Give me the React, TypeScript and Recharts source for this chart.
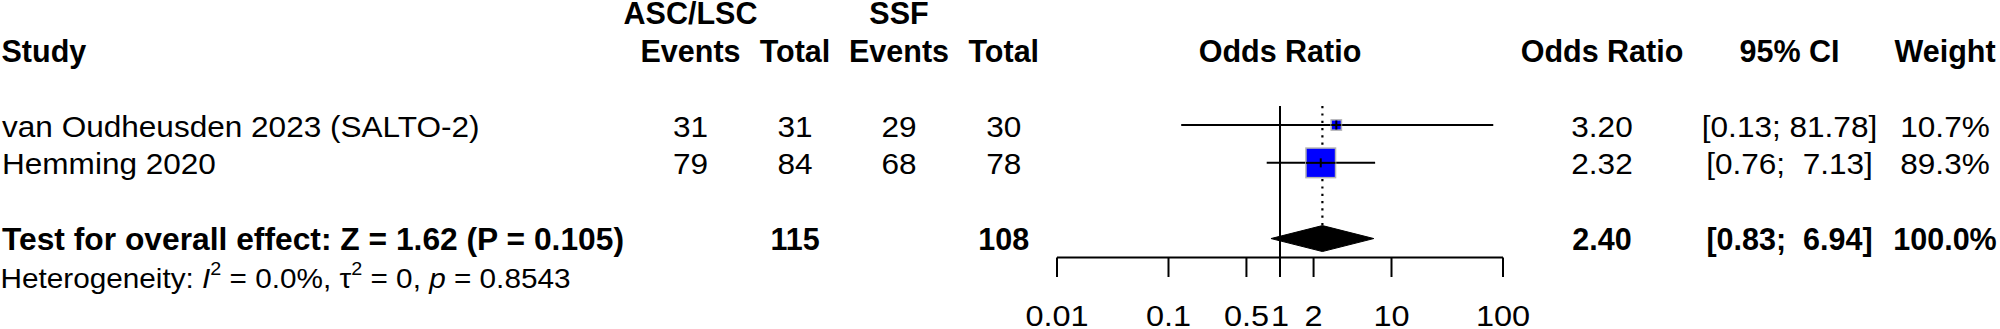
import {
  Area,
  ComposedChart,
  ErrorBar,
  ReferenceLine,
  Scatter,
  XAxis,
  YAxis,
} from "recharts";

// ---- data ----
const studies = ["van Oudheusden 2023 (SALTO-2)", "Hemming 2020"];
const ascEvents = [31, 79];
const ascTotal = [31, 84];
const ssfEvents = [29, 68];
const ssfTotal = [30, 78];
const oddsRatio = [3.2, 2.32];
const ciLow = [0.13, 0.76];
const ciHigh = [81.78, 7.13];
const weights = [10.7, 89.3];
const studyRows = [1, 2];

const pooledOR = 2.4;
const pooledLow = 0.83;
const pooledHigh = 6.94;
const pooledAscTotal = 115;
const pooledSsfTotal = 108;
const pooledWeight = 100;
const pooledRow = 4;
const headerRow = -1;

const overallText = "Test for overall effect: Z = 1.62 (P = 0.105)";
const hetI2 = "0.0%";
const hetTau2 = "0";
const hetP = "0.8543";

const axisTicks = [0.01, 0.1, 0.5, 1, 2, 10, 100];

// ---- layout ----
const W = 2000;
const H = 329;
const PLOT_LEFT = 1057;
const PLOT_RIGHT = 1503;
const PLOT_BOTTOM = 257.5;
const ROW1_Y = 125;
const ROW_PX = 37.85;
const Y_MIN = 1 - ROW1_Y / ROW_PX;
const Y_MAX = 1 + (PLOT_BOTTOM - ROW1_Y) / ROW_PX;
const TEXT_DY = 11.5;
const FS_BOLD = 30.5;
const FS_REG = 29.5;
const SX_REG = 1.07;
const FONT = '"Liberation Sans", Arial, Helvetica, sans-serif';
const SQUARE_K = 3.13;
const DIAMOND_HALF = 0.343;
const COL = {
  study: 2,
  ev1: 690.5,
  tot1: 795,
  ev2: 899,
  tot2: 1003.8,
  or: 1602,
  ci: 1789.5,
  weight: 1945,
};

const fmtCI = (lo: number, hi: number) =>
  `[${lo.toFixed(2)}; ${hi.toFixed(2).padStart(5)}]`;

const studyData = studies.map((name, i) => ({
  x: oddsRatio[i],
  y: studyRows[i],
  name,
  ev1: ascEvents[i],
  tot1: ascTotal[i],
  ev2: ssfEvents[i],
  tot2: ssfTotal[i],
  weight: weights[i],
  err: [oddsRatio[i] - ciLow[i], ciHigh[i] - oddsRatio[i]],
  ci: fmtCI(ciLow[i], ciHigh[i]),
}));

const pooledData = [{ x: pooledOR, y: pooledRow }];
const headerData = [{ x: 1, y: headerRow }];

const diamondData = [
  { x: pooledLow, band: [pooledRow, pooledRow] },
  { x: pooledOR, band: [pooledRow - DIAMOND_HALF, pooledRow + DIAMOND_HALF] },
  { x: pooledHigh, band: [pooledRow, pooledRow] },
];

// bold text in the original renders at plain Arial proportions, regular text a bit wider
const bold = (x: number, y: number, s: string | number, anchor: string, len?: number) => (
  <text
    x={x}
    y={y}
    textAnchor={anchor as any}
    fontFamily={FONT}
    fontSize={FS_BOLD}
    fontWeight={700}
    fill="#000"
    style={{ whiteSpace: "pre" }}
    textLength={len}
    lengthAdjust={len ? "spacingAndGlyphs" : undefined}
  >
    {s}
  </text>
);

const reg = (x: number, y: number, s: string | number, anchor: string, fs = FS_REG) => (
  <text
    transform={`translate(${x},${y}) scale(${SX_REG},1)`}
    textAnchor={anchor as any}
    fontFamily={FONT}
    fontSize={fs}
    fill="#000"
    style={{ whiteSpace: "pre" }}
  >
    {s}
  </text>
);

function HeaderShape(props: any) {
  const { cx, cy } = props;
  const y2 = cy + 13;
  const y1 = cy - 25;
  return (
    <g>
      {bold(COL.ev1, y1, "ASC/LSC", "middle")}
      {bold(COL.ev2, y1, "SSF", "middle")}
      {bold(1.5, y2, "Study", "start")}
      {bold(COL.ev1, y2, "Events", "middle")}
      {bold(COL.tot1, y2, "Total", "middle")}
      {bold(COL.ev2, y2, "Events", "middle")}
      {bold(COL.tot2, y2, "Total", "middle")}
      {bold(cx, y2, "Odds Ratio", "middle")}
      {bold(COL.or, y2, "Odds Ratio", "middle")}
      {bold(COL.ci, y2, "95% CI", "middle")}
      {bold(COL.weight, y2, "Weight", "middle")}
    </g>
  );
}

function StudyShape(props: any) {
  const { cx, cy, payload } = props;
  const side = SQUARE_K * Math.sqrt(payload.weight);
  const ty = cy + TEXT_DY;
  return (
    <g>
      <rect
        x={cx - side / 2}
        y={cy - side / 2}
        width={side}
        height={side}
        fill="#0000ff"
        stroke="#b4b4b4"
        strokeWidth={1.5}
      />
      <line x1={cx - side / 2} x2={cx + side / 2} y1={cy} y2={cy} stroke="#000" strokeWidth={2} />
      <line x1={cx} x2={cx} y1={cy - 4.5} y2={cy + 4.5} stroke="#000" strokeWidth={2} />
      {reg(COL.study, ty, payload.name, "start")}
      {reg(COL.ev1, ty, payload.ev1, "middle")}
      {reg(COL.tot1, ty, payload.tot1, "middle")}
      {reg(COL.ev2, ty, payload.ev2, "middle")}
      {reg(COL.tot2, ty, payload.tot2, "middle")}
      {reg(COL.or, ty, payload.x.toFixed(2), "middle")}
      {reg(COL.ci, ty, payload.ci, "middle")}
      {reg(COL.weight, ty, `${payload.weight.toFixed(1)}%`, "middle")}
    </g>
  );
}

function PooledShape(props: any) {
  const { cy } = props;
  const ty = cy + TEXT_DY;
  const hy = cy + ROW_PX + TEXT_DY;
  return (
    <g>
      {bold(COL.study, ty, overallText, "start", 622)}
      {bold(COL.tot1, ty, pooledAscTotal, "middle")}
      {bold(COL.tot2, ty, pooledSsfTotal, "middle")}
      {bold(COL.or, ty, pooledOR.toFixed(2), "middle")}
      {bold(COL.ci, ty, fmtCI(pooledLow, pooledHigh), "middle")}
      {bold(COL.weight, ty, `${pooledWeight.toFixed(1)}%`, "middle")}
      <text
        x={0.5}
        y={hy}
        fontFamily={FONT}
        fontSize={28.5}
        fill="#000"
        style={{ whiteSpace: "pre" }}
        textLength={570}
        lengthAdjust="spacingAndGlyphs"
      >
        <tspan>Heterogeneity: </tspan>
        <tspan fontStyle="italic">I</tspan>
        <tspan fontSize={19} dy={-13}>2</tspan>
        <tspan dy={13}>{` = ${hetI2}, τ`}</tspan>
        <tspan fontSize={19} dy={-13}>2</tspan>
        <tspan dy={13}>{` = ${hetTau2}, `}</tspan>
        <tspan fontStyle="italic">p</tspan>
        <tspan>{` = ${hetP}`}</tspan>
      </text>
    </g>
  );
}

function AxisTick(props: any) {
  const { x, y, payload } = props;
  return (
    <text
      transform={`translate(${x},${y + 49}) scale(1.1,1)`}
      textAnchor="middle"
      fontFamily={FONT}
      fontSize={29.5}
      fill="#000"
    >
      {String(payload.value)}
    </text>
  );
}

export default function App() {
  return (
    <div style={{ position: "absolute", left: 0, top: 0, width: W, height: H, background: "#fff" }}>
      <ComposedChart
        width={W}
        height={H}
        margin={{ top: 0, right: W - PLOT_RIGHT, bottom: 0, left: PLOT_LEFT }}
      >
        <XAxis
          type="number"
          dataKey="x"
          scale="log"
          domain={[0.01, 100]}
          ticks={axisTicks}
          interval={0}
          height={H - PLOT_BOTTOM}
          tickSize={19.5}
          tickMargin={0}
          stroke="#000"
          strokeWidth={2}
          tick={<AxisTick />}
        />
        <YAxis type="number" dataKey="y" domain={[Y_MIN, Y_MAX]} reversed hide />
        <ReferenceLine
          segment={[
            { x: 1, y: 0.5 },
            { x: 1, y: Y_MAX },
          ]}
          stroke="#000"
          strokeWidth={2}
        />
        <ReferenceLine
          segment={[
            { x: pooledOR, y: 0.5 },
            { x: pooledOR, y: pooledRow - DIAMOND_HALF },
          ]}
          stroke="#000"
          strokeWidth={2.2}
          strokeDasharray="2.2 5.1"
        />
        <Area
          data={diamondData}
          dataKey="band"
          type="linear"
          stroke="#000"
          strokeWidth={1}
          fill="#000"
          fillOpacity={1}
          isAnimationActive={false}
          dot={false}
          activeDot={false}
        />
        <Scatter data={studyData} shape={<StudyShape />} isAnimationActive={false}>
          <ErrorBar dataKey="err" direction="x" width={0} stroke="#000" strokeWidth={2} />
        </Scatter>
        <Scatter data={pooledData} shape={<PooledShape />} isAnimationActive={false} />
        <Scatter data={headerData} shape={<HeaderShape />} isAnimationActive={false} />
      </ComposedChart>
    </div>
  );
}
